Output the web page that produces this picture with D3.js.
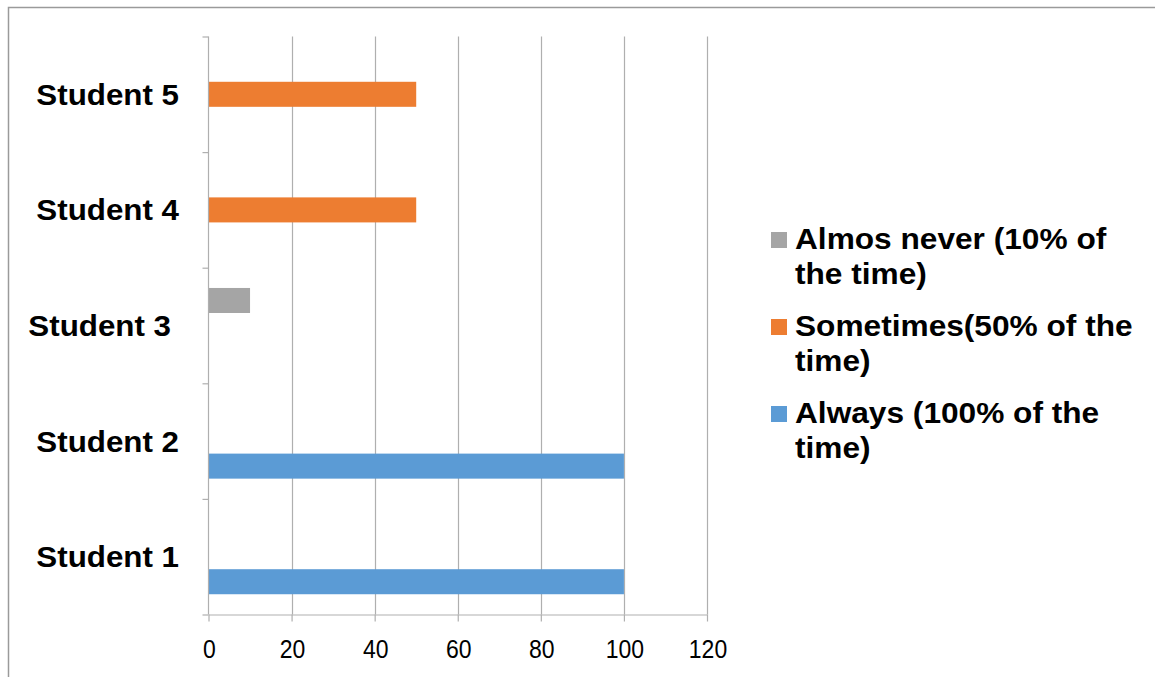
<!DOCTYPE html>
<html>
<head>
<meta charset="utf-8">
<script src="https://cdn.jsdelivr.net/npm/d3@7"></script>
<style>
  html, body { margin: 0; padding: 0; background: #fff; }
  svg { display: block; }
</style>
</head>
<body>
<svg id="chart" width="1155" height="677"></svg>
<script>
// ---- data ----
const categories = ["Student 1", "Student 2", "Student 3", "Student 4", "Student 5"];
const seriesNames = ["Almos never (10% of the time)", "Sometimes(50% of the time)", "Always (100% of the time)"];
const legendLines = [["Almos never (10% of", "the time)"], ["Sometimes(50% of the", "time)"], ["Always (100% of the", "time)"]];
const almostNever = [0, 0, 10, 0, 0];
const sometimes   = [0, 0, 0, 50, 50];
const always      = [100, 100, 0, 0, 0];
const xTicks = [0, 20, 40, 60, 80, 100, 120];
const colors = ["#a5a5a5", "#ed7d31", "#5b9bd5"];

const seriesValues = [almostNever, sometimes, always];

(function () {
const svg = d3.select("#chart");

// outer border
svg.append("path")
  .attr("d", "M8.5,700 V7.5 H1200")
  .attr("fill", "none").attr("stroke", "#9a9a9a").attr("stroke-width", 1.5);

const pLeft = 208.5, pRight = 707, pTop = 36.5, pBottom = 614.5;

const x = d3.scaleLinear().domain([0, 120]).range([pLeft, pRight]);
// categories from bottom (Student 1) to top (Student 5)
const y0 = d3.scaleBand().domain(categories.slice().reverse()).range([pTop, pBottom]).padding(0);
const y1 = d3.scaleBand().domain(seriesNames).range([0, y0.bandwidth()]).paddingInner(0).paddingOuter(0.81);
const yEdge = d3.scaleLinear().domain([0, categories.length]).range([pBottom, pTop]);

const gridColor = "#afafaf";

// vertical gridlines
svg.append("g").selectAll("line")
  .data(xTicks.filter(d => d > 0))
  .join("line")
  .attr("x1", d => Math.round(x(d)) + 0.5).attr("x2", d => Math.round(x(d)) + 0.5)
  .attr("y1", pTop).attr("y2", pBottom)
  .attr("stroke", gridColor).attr("stroke-width", 1.2);

// bars
categories.forEach((cat, ci) => {
  seriesNames.forEach((s, si) => {
    const v = seriesValues[si][ci];
    if (v > 0) {
      svg.append("rect")
        .attr("x", x(0))
        .attr("y", y0(cat) + y1(s))
        .attr("width", x(v) - x(0))
        .attr("height", y1.bandwidth())
        .attr("fill", colors[si]);
    }
  });
});

// y axis (ticks at band edges)
const yAxis = svg.append("g")
  .attr("transform", `translate(${pLeft},0)`)
  .call(d3.axisLeft(yEdge).tickValues(d3.range(categories.length + 1)).tickSize(6).tickFormat(""));
yAxis.selectAll("path, line").attr("stroke", gridColor).attr("stroke-width", 1.2);
yAxis.select(".domain").attr("d", `M0,${pTop}V${pBottom}`);

// x axis
const xAxis = svg.append("g")
  .attr("transform", `translate(0,${pBottom})`)
  .call(d3.axisBottom(x).tickValues(xTicks).tickSize(7).tickSizeOuter(0).tickPadding(0));
xAxis.selectAll("path, line").attr("stroke", gridColor).attr("stroke-width", 1.2);
xAxis.selectAll("text")
  .attr("y", null).attr("dy", null)
  .attr("transform", "translate(0.5,43.5) scale(0.92,1)")
  .attr("fill", "#000")
  .style("font-family", "'Liberation Sans', Arial, sans-serif")
  .style("font-size", "25px");

// category labels
const labelFont = "'Liberation Sans', Arial, sans-serif";
svg.append("g").selectAll("text")
  .data(categories)
  .join("text")
  .attr("transform", d => {
    const xe = d === "Student 3" ? 171 : 179;
    return `translate(${xe},${y0(d) + y0.bandwidth() / 2 + 10.5}) scale(1.08,1)`;
  })
  .attr("text-anchor", "end")
  .style("font-family", labelFont)
  .style("font-weight", "bold")
  .style("font-size", "29px")
  .attr("fill", "#000")
  .text(d => d);

// legend
const legend = svg.append("g");
const legendBase = 249, legendStep = 87, lineStep = 35;
legendLines.forEach((lines, i) => {
  const by = legendBase + i * legendStep;
  legend.append("rect")
    .attr("x", 771).attr("y", by - 17)
    .attr("width", 16).attr("height", 16)
    .attr("fill", colors[i]);
  lines.forEach((ln, j) => {
    legend.append("text")
      .attr("transform", `translate(795,${by + j * lineStep}) scale(1.055,1)`)
      .style("font-family", labelFont)
      .style("font-weight", "bold")
      .style("font-size", "30px")
      .attr("fill", "#000")
      .text(ln);
  });
});
})();
</script>
</body>
</html>
